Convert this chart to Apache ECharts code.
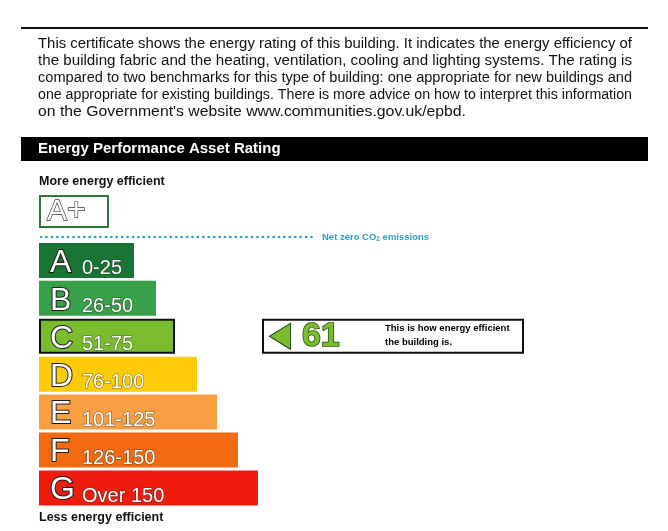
<!DOCTYPE html>
<html>
<head>
<meta charset="utf-8">
<title>Energy Performance Asset Rating</title>
<script src="https://cdn.jsdelivr.net/npm/echarts@6/dist/echarts.min.js"></script>
<style>
  html, body { margin: 0; padding: 0; background: #fff; }
  #chart { width: 668px; height: 531px; }
</style>
</head>
<body>
<div id="chart"></div>
<script>
// bands, A at the top
var bands = ['A', 'B', 'C', 'D', 'E', 'F', 'G'];
var bandRanges = ['0-25', '26-50', '51-75', '76-100', '101-125', '126-150', 'Over 150'];
var bandUpper = [25, 50, 75, 100, 125, 150, Infinity];
var bandLength = [95, 117, 136, 158, 178, 199, 219];
var bandColors = ['#1a7535', '#37a048', '#79bd2e', '#ffcb08', '#f9a045', '#f46a10', '#ef1c0e'];

var topBand = ['A+'];
var topBandLength = [70];

// the building's rating and where its marker sits
var rating = 61;
var markerStart = 223;
var markerLength = 262;

var introLines = [
  'This certificate shows the energy rating of this building. It indicates the energy efficiency of',
  'the building fabric and the heating, ventilation, cooling and lighting systems. The rating is',
  'compared to two benchmarks for this type of building: one appropriate for new buildings and',
  'one appropriate for existing buildings. There is more advice on how to interpret this information',
  'on the Government\'s website www.communities.gov.uk/epbd.'
];

var ratingBand = 0;
while (rating > bandUpper[ratingBand]) ratingBand++;

var baseData = bands.map(function (b, i) { return i === ratingBand ? markerStart : '-'; });
var markerData = bands.map(function (b, i) { return i === ratingBand ? markerLength : '-'; });

// intro paragraph: full lines are squeezed to the column width, the last one is set loose
var graphics = [];
var paraFont = '15.5px "Liberation Sans", Arial, sans-serif';
var ctx = document.createElement('canvas').getContext('2d');
ctx.font = paraFont;
introLines.forEach(function (line, li) {
  var last = li === introLines.length - 1;
  var sx = (last ? 428 : 594) / ctx.measureText(line).width;
  graphics.push({
    type: 'text', x: 38, y: 44 + 17 * li, scaleX: sx,
    style: { text: line, font: paraFont, fill: '#111', textVerticalAlign: 'middle', verticalAlign: 'middle' }
  });
});

graphics.push(
  { type: 'line', shape: { x1: 21, y1: 28, x2: 648, y2: 28 }, style: { stroke: '#111', lineWidth: 2 } },
  { type: 'rect', shape: { x: 21, y: 137, width: 627, height: 24 }, style: { fill: '#000' } },
  {
    type: 'text', x: 38, y: 149,
    style: { text: 'Energy Performance Asset Rating', font: 'bold 15px "Liberation Sans", Arial', fill: '#fff',
      textVerticalAlign: 'middle', verticalAlign: 'middle' }
  },
  {
    type: 'text', x: 39, y: 182,
    style: { text: 'More energy efficient', font: 'bold 12.5px "Liberation Sans", Arial', fill: '#111',
      textVerticalAlign: 'middle', verticalAlign: 'middle' }
  },
  {
    type: 'text', x: 39, y: 518,
    style: { text: 'Less energy efficient', font: 'bold 12.5px "Liberation Sans", Arial', fill: '#111',
      textVerticalAlign: 'middle', verticalAlign: 'middle' }
  },
  {
    type: 'line', shape: { x1: 41, y1: 237, x2: 315, y2: 237 },
    style: { stroke: '#1f9bd8', lineWidth: 2.6, lineDash: [0.01, 5.4], lineCap: 'round' }
  },
  {
    type: 'text', x: 322, y: 237,
    style: {
      text: 'Net zero CO{s|2} emissions', font: 'bold 9.5px "Liberation Sans", Arial', fill: '#2a9fd8',
      textVerticalAlign: 'middle', verticalAlign: 'middle',
      rich: { s: { fontSize: 6.5, fontWeight: 'bold', fill: '#2a9fd8', padding: [5, 0, 0, 0] } }
    }
  }
);

var myChart = echarts.init(document.getElementById('chart'));
var option = {
  animation: false,
  backgroundColor: '#fff',
  grid: [
    { left: 39, width: 600, top: 194, height: 35 },
    { left: 39, width: 600, top: 241.5, height: 265.4 }
  ],
  xAxis: [
    { gridIndex: 0, type: 'value', min: 0, max: 600, show: false },
    { gridIndex: 1, type: 'value', min: 0, max: 600, show: false }
  ],
  yAxis: [
    { gridIndex: 0, type: 'category', data: topBand, show: false },
    { gridIndex: 1, type: 'category', data: bands, inverse: true, show: false }
  ],
  graphic: { elements: graphics },
  series: [
    {
      name: 'A+',
      type: 'bar',
      xAxisIndex: 0, yAxisIndex: 0,
      barWidth: 33,
      itemStyle: { color: '#fff', borderColor: '#2a7a38', borderWidth: 2 },
      label: {
        show: true, position: 'insideLeft', distance: 8,
        formatter: '{a|A}{p|+}',
        rich: {
          a: { fontSize: 30, fontFamily: 'Liberation Sans', color: '#fff', textBorderColor: '#333', textBorderWidth: 1.3 },
          p: { fontSize: 32, fontFamily: 'Liberation Sans', color: '#fff', textBorderColor: '#333', textBorderWidth: 1.3 }
        }
      },
      data: topBandLength
    },
    {
      name: 'band',
      type: 'bar',
      xAxisIndex: 1, yAxisIndex: 1,
      barWidth: 35,
      barGap: '-100%',
      label: {
        show: true, position: 'insideLeft', distance: 11, offset: [0, 1.5],
        formatter: function (p) {
          return '{l|' + bands[p.dataIndex] + '}{r|' + bandRanges[p.dataIndex] + '}';
        },
        rich: {
          l: { fontSize: 32, fontFamily: 'Liberation Sans', color: '#fff', width: 32, lineHeight: 34,
            verticalAlign: 'bottom', textBorderColor: '#1a1a1a', textBorderWidth: 2 },
          r: { fontSize: 20, fontFamily: 'Liberation Sans', color: '#fff', lineHeight: 22,
            verticalAlign: 'bottom', textBorderColor: 'rgba(40,40,40,0.6)', textBorderWidth: 1.2 }
        }
      },
      data: bandLength.map(function (v, i) {
        return {
          value: v,
          itemStyle: i === ratingBand
            ? { color: bandColors[i], borderColor: '#111', borderWidth: 2 }
            : { color: bandColors[i] }
        };
      })
    },
    {
      name: 'base',
      type: 'bar',
      xAxisIndex: 1, yAxisIndex: 1,
      stack: 'marker',
      barWidth: 35,
      barGap: '-100%',
      itemStyle: { color: 'rgba(0,0,0,0)' },
      data: baseData
    },
    {
      name: 'marker',
      type: 'bar',
      xAxisIndex: 1, yAxisIndex: 1,
      stack: 'marker',
      barWidth: 33,
      barGap: '-100%',
      itemStyle: { color: '#fff', borderColor: '#111', borderWidth: 2 },
      label: {
        show: true, position: [123, 17], verticalAlign: 'middle',
        formatter: 'This is how energy efficient\nthe building is.',
        fontSize: 9.5, fontWeight: 'bold', fontFamily: 'Liberation Sans', color: '#000', lineHeight: 14
      },
      data: markerData
    },
    {
      name: 'rating',
      type: 'scatter',
      xAxisIndex: 1, yAxisIndex: 1,
      symbol: 'path://M0,13 L21,0 L21,26 Z',
      symbolSize: [21, 26],
      itemStyle: { color: bandColors[ratingBand], borderColor: '#1f3d0c', borderWidth: 1, opacity: 1 },
      label: {
        show: true, position: 'right', distance: 11,
        formatter: String(rating),
        fontSize: 34, fontWeight: 'bold', fontFamily: 'Liberation Sans', color: bandColors[ratingBand],
        textBorderColor: '#244a10', textBorderWidth: 1.5
      },
      data: [[markerStart + 18, bands[ratingBand]]]
    }
  ]
};
myChart.setOption(option);
</script>
</body>
</html>
